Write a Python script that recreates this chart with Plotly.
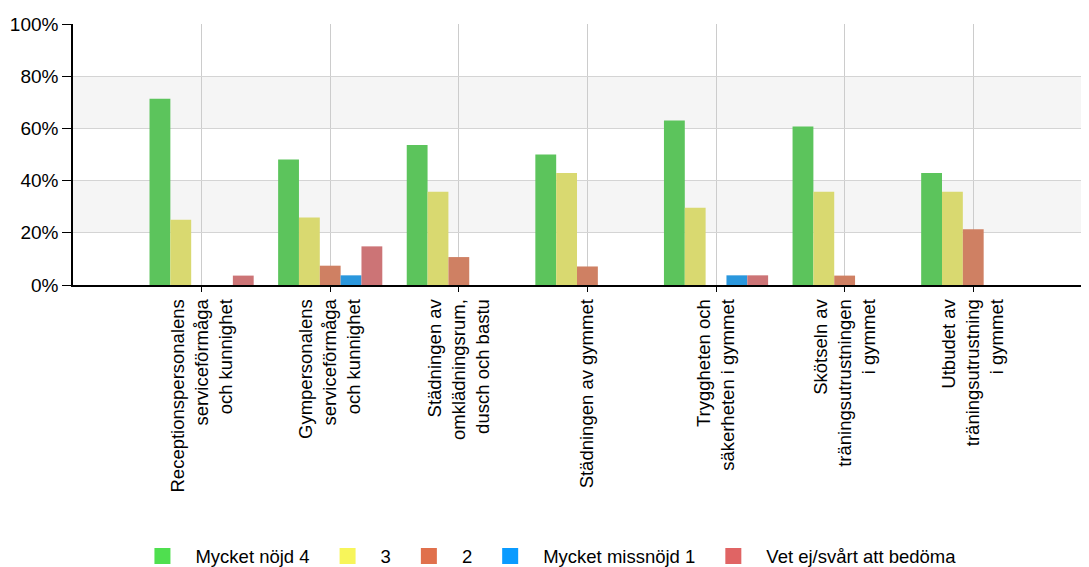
import plotly.graph_objects as go

categories = [
    "Receptionspersonalens<br>serviceförmåga<br>och kunnighet",
    "Gympersonalens<br>serviceförmåga<br>och kunnighet",
    "Städningen av<br>omklädningsrum,<br>dusch och bastu",
    "Städningen av gymmet",
    "Tryggheten och<br>säkerheten i gymmet",
    "Skötseln av<br>träningsutrustningen<br>i gymmet",
    "Utbudet av<br>träningsutrustning<br>i gymmet",
]

series_names = ["Mycket nöjd 4", "3", "2", "Mycket missnöjd 1", "Vet ej/svårt att bedöma"]

mycket_nojd_4 = [71.4, 48.1, 53.6, 50.0, 63.0, 60.7, 42.9]
betyg_3 = [25.0, 25.9, 35.7, 42.9, 29.6, 35.7, 35.7]
betyg_2 = [0, 7.4, 10.7, 7.1, 0, 3.6, 21.4]
mycket_missnojd_1 = [0, 3.7, 0, 0, 3.7, 0, 0]
vet_ej = [3.6, 14.8, 0, 0, 3.7, 0, 0]

values = [mycket_nojd_4, betyg_3, betyg_2, mycket_missnojd_1, vet_ej]
bar_colors = ["#5cc45c", "#d9d970", "#cf8063", "#2a97dd", "#cc7476"]
legend_colors = ["#4fdf4f", "#f7f55a", "#e0704c", "#0a9bff", "#e06464"]

fig = go.Figure()
for name, vals, c in zip(series_names, values, bar_colors):
    fig.add_trace(go.Bar(
        x=categories, y=[v if v > 0 else None for v in vals], name=name, showlegend=False,
        marker=dict(color=c, line=dict(width=0)),
    ))
for name, c in zip(series_names, legend_colors):
    fig.add_trace(go.Scatter(
        x=[None], y=[None], mode="markers", name=name,
        marker=dict(symbol="square", size=16, color=c),
    ))

# alternating background bands
for y0, y1 in [(20, 40), (60, 80)]:
    fig.add_shape(type="rect", xref="paper", yref="y", x0=0, x1=1, y0=y0, y1=y1,
                  fillcolor="#f5f5f5", line=dict(width=0), layer="below")

font = "Liberation Sans, Arial, sans-serif"
# page body has an 8px margin, so the figure is sized to end at the window edge
fig.update_layout(
    width=1081, height=559,
    margin=dict(l=65, r=0, t=16, b=282, autoexpand=False),
    paper_bgcolor="white", plot_bgcolor="white",
    barmode="group", bargap=0.19, bargroupgap=0,
    font=dict(family=font, size=18, color="black"),
    legend=dict(orientation="h", x=0.465, xanchor="center", y=-1.04, yanchor="middle",
                font=dict(size=18.5), itemwidth=56, traceorder="normal"),
)
fig.update_xaxes(
    range=[-1, 6.9], tickangle=-90, showgrid=True, gridcolor="#cccccc", gridwidth=1,
    showline=True, linecolor="black", linewidth=1.5, automargin=False,
    ticks="outside", ticklen=5, tickcolor="black",
    tickfont=dict(size=18.5, family=font),
)
fig.update_yaxes(
    range=[0, 100], dtick=20, ticksuffix="%", showgrid=True, gridcolor="#d4d4d4", gridwidth=1,
    showline=True, linecolor="black", linewidth=1.5, automargin=False,
    ticks="outside", ticklen=9, tickcolor="black",
    tickfont=dict(size=19, family=font), zeroline=False,
)

fig.write_html("out.html")
